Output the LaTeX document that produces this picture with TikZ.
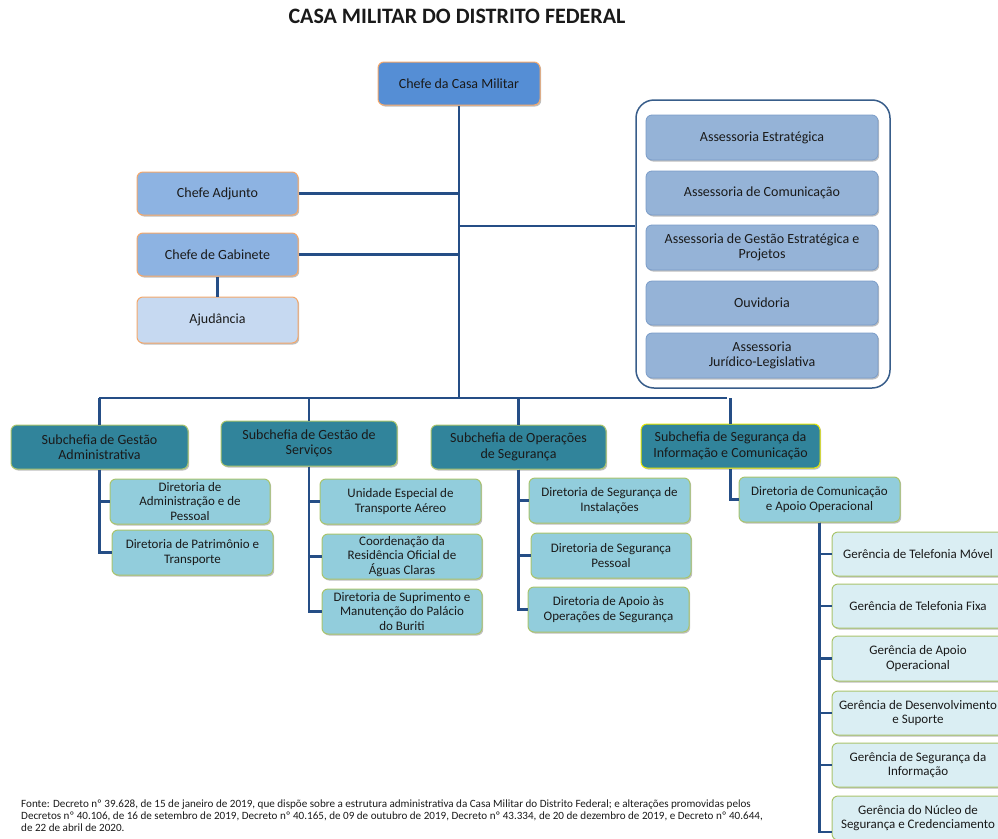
\documentclass[tikz,border=0pt]{standalone}
\usepackage{fontspec}
\setmainfont{Carlito}
\usetikzlibrary{shadows}
\definecolor{linec}{HTML}{254E86}
\definecolor{chefec}{HTML}{558ED5}
\definecolor{orangeb}{HTML}{F5A86A}
\definecolor{adjc}{HTML}{8DB3E2}
\definecolor{ajuc}{HTML}{C6D9F1}
\definecolor{assc}{HTML}{95B3D7}
\definecolor{assb}{HTML}{7A9CC8}
\definecolor{contb}{HTML}{385D8A}
\definecolor{subc}{HTML}{31849B}
\definecolor{greenb}{HTML}{A9C46C}
\definecolor{yellowb}{HTML}{E6E600}
\definecolor{dirc}{HTML}{92CDDC}
\definecolor{gerc}{HTML}{DAEEF3}
\definecolor{txt}{HTML}{1A1A1A}
\newcommand\bx[7]{\node[#6, minimum width={(#4-#2)*1pt}, minimum height={(#5-#3)*1pt}] (#1) at ({(#2+#4)/2},{(#3+#5)/2}) {#7};}
\tikzset{
  base/.style={draw, rounded corners=6pt, align=center, inner sep=1pt, text=txt,
    font=\fontsize{13}{14.5}\selectfont,
    drop shadow={shadow xshift=1.2pt, shadow yshift=-1.5pt, opacity=0.25, fill=black}},
  bigtext/.style={font=\fontsize{14}{15.5}\selectfont},
  chefebox/.style={base, bigtext, fill=chefec, draw=orangeb, line width=1pt},
  adjbox/.style={base, bigtext, fill=adjc, draw=orangeb, line width=1pt},
  ajubox/.style={base, bigtext, fill=ajuc, draw=orangeb, line width=1pt},
  assbox/.style={base, bigtext, fill=assc, draw=assb, line width=0.8pt},
  contbox/.style={draw=contb, line width=1.5pt, rounded corners=18pt, fill=white},
  subbox/.style={base, bigtext, fill=subc, draw=greenb, line width=1pt},
  subybox/.style={base, bigtext, fill=subc, draw=yellowb, line width=1pt},
  dirbox/.style={base, fill=dirc, draw=greenb, line width=1pt},
  gerbox/.style={base, fill=gerc, draw=greenb, line width=1pt},
  conn/.style={draw=linec, line width=2.6pt},
}
\begin{document}
\begin{tikzpicture}[x=1pt,y=-1pt]
\useasboundingbox (0,0) rectangle (998,838);
\clip (0,0) rectangle (998,838);
\node[font=\fontsize{22}{25}\selectfont\bfseries, text=txt] (title) at (457,16) {CASA MILITAR DO DISTRITO FEDERAL};

% top level
\bx{chefe}{378}{62}{540}{105}{chefebox}{Chefe da Casa Militar}
\bx{adj}{137}{172}{298}{215}{adjbox}{Chefe Adjunto}
\bx{gab}{137}{233}{298}{276}{adjbox}{Chefe de Gabinete}
\bx{aju}{137}{297}{298}{343}{ajubox}{Ajudância}

% container of assessorias
\bx{cont}{636}{100}{890}{388}{contbox}{}
\bx{as1}{646}{115}{878}{160}{assbox}{Assessoria Estratégica}
\bx{as2}{646}{171}{878}{215}{assbox}{Assessoria de Comunicação}
\bx{as3}{646}{225}{878}{270}{assbox}{Assessoria de Gestão Estratégica e\\Projetos}
\bx{as4}{646}{281}{878}{325}{assbox}{Ouvidoria}
\bx{as5}{646}{333}{878}{378}{assbox}{Assessoria\\Jurídico-Legislativa}

% subchefias
\bx{sga}{11}{425}{188}{469}{subbox}{Subchefia de Gestão\\Administrativa}
\bx{sgs}{221}{421}{397}{466}{subbox}{Subchefia de Gestão de\\Serviços}
\bx{sop}{431}{425}{606}{469}{subbox}{Subchefia de Operações\\de Segurança}
\bx{ssi}{641}{424}{820}{468}{subybox}{Subchefia de Segurança da\\Informação e Comunicação}

% diretorias
\bx{dap}{110}{479}{270}{524}{dirbox}{Diretoria de\\Administração e de\\Pessoal}
\bx{dpt}{112}{530}{273}{575}{dirbox}{Diretoria de Patrimônio e\\Transporte}
\bx{uea}{320}{479}{481}{524}{dirbox}{Unidade Especial de\\Transporte Aéreo}
\bx{cro}{322}{534}{482}{579}{dirbox}{Coordenação da\\Residência Oficial de\\Águas Claras}
\bx{dsm}{322}{589}{482}{634}{dirbox}{Diretoria de Suprimento e\\Manutenção do Palácio\\do Buriti}
\bx{dsi}{529}{478}{690}{523}{dirbox}{Diretoria de Segurança de\\Instalações}
\bx{dsp}{531}{533}{691}{578}{dirbox}{Diretoria de Segurança\\Pessoal}
\bx{dao}{528}{587}{689}{632}{dirbox}{Diretoria de Apoio às\\Operações de Segurança}
\bx{dca}{739}{477}{900}{522}{dirbox}{Diretoria de Comunicação\\e Apoio Operacional}

% gerencias
\bx{g1}{832}{532}{1004}{576}{gerbox}{Gerência de Telefonia Móvel}
\bx{g2}{832}{584}{1004}{628}{gerbox}{Gerência de Telefonia Fixa}
\bx{g3}{832}{636}{1004}{681}{gerbox}{Gerência de Apoio\\Operacional}
\bx{g4}{832}{691}{1004}{735}{gerbox}{Gerência de Desenvolvimento\\e Suporte}
\bx{g5}{832}{743}{1004}{787}{gerbox}{Gerência de Segurança da\\Informação}
\bx{g6}{832}{796}{1004}{840}{gerbox}{Gerência do Núcleo de\\Segurança e Credenciamento}

% connectors
\coordinate (busL) at (99,398);
\coordinate (busR) at (727,398);
\coordinate (ja) at (459,226);
\draw[conn] (chefe.south) -- (chefe.south |- busL);
\draw[conn] (adj.east) -- (adj.east -| chefe.south);
\draw[conn] (gab.east) -- (gab.east -| chefe.south);
\draw[conn] (gab.south) -- (aju.north);
\draw[conn] (ja) -- (ja -| cont.west);
\draw[conn] (busL) -- (busR);
\draw[conn] (sga.north |- busL) -- (sga.north);
\draw[conn] (sgs.north |- busL) -- (sgs.north);
\draw[conn] (sop.north |- busL) -- (sop.north);
\draw[conn] (ssi.north |- busL) -- (ssi.north);
\draw[conn] (sga.south) |- (dap.west);
\draw[conn] (sga.south) |- (dpt.west);
\draw[conn] (sgs.south) |- (uea.west);
\draw[conn] (sgs.south) |- (cro.west);
\draw[conn] (sgs.south) |- (dsm.west);
\draw[conn] (sop.south) |- (dsi.west);
\draw[conn] (sop.south) |- (dsp.west);
\draw[conn] (sop.south) |- (dao.west);
\draw[conn] (ssi.south) |- (dca.west);
\foreach \g in {g1,g2,g3,g4,g5} {\draw[conn] (dca.south) |- (\g.west);}
\coordinate (g6t) at (832,832);
\draw[conn] (dca.south) |- (g6t);

% footer
\node[anchor=north west, align=left, inner sep=0pt, text=txt, font=\fontsize{11.1}{12}\selectfont] (foot) at (21,800)
{Fonte: Decreto nº 39.628, de 15 de janeiro de 2019, que dispõe sobre a estrutura administrativa da Casa Militar do Distrito Federal; e alterações promovidas pelos\\
Decretos nº 40.106, de 16 de setembro de 2019, Decreto nº 40.165, de 09 de outubro de 2019, Decreto nº 43.334, de 20 de dezembro de 2019, e Decreto nº 40.644,\\
de 22 de abril de 2020.};
\end{tikzpicture}
\end{document}
